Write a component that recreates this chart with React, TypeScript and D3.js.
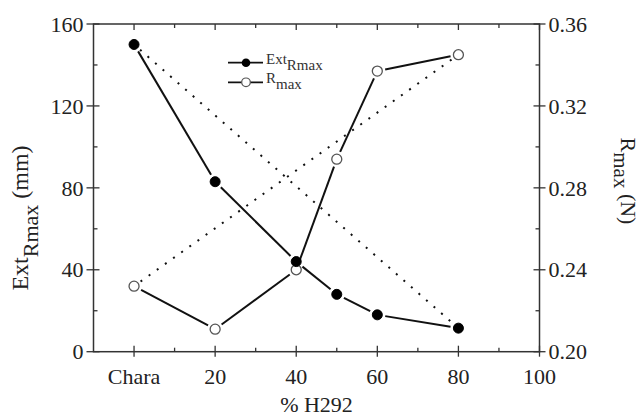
import React from "react";
import * as d3 from "d3";

const categories = [0, 20, 40, 50, 60, 80];
const extRmax = [150, 83, 44, 28, 18, 11.5];
const rMax = [0.232, 0.211, 0.240, 0.294, 0.337, 0.345];
const xTicksMajor = [0, 20, 40, 60, 80, 100];
const xTickLabels = ["Chara", "20", "40", "60", "80", "100"];
const xTicksMinor = [10, 30, 50, 70, 90];
const yLeftTicks = [0, 40, 80, 120, 160];
const yLeftMinor = [20, 60, 100, 140];
const yRightTicks = [0.2, 0.24, 0.28, 0.32, 0.36];
const yRightMinor = [0.22, 0.26, 0.30, 0.34];

const W = 644, H = 417;
const L = 93.5, R = 539.5, T = 24, B = 351.7;
const FONT = "'Liberation Serif', 'Times New Roman', serif";
const FS = 22;

export default function App() {
  const x = d3.scaleLinear().domain([-10, 100]).range([L, R]);
  const yL = d3.scaleLinear().domain([0, 160]).range([B, T]);
  const yR = d3.scaleLinear().domain([0.2, 0.36]).range([B, T]);

  const extPts = categories.map((c, i) => [x(c), yL(extRmax[i])] as [number, number]);
  const rPts = categories.map((c, i) => [x(c), yR(rMax[i])] as [number, number]);

  const rad = 5;
  const gap = 3;
  const segs = (pts: [number, number][]) =>
    pts.slice(1).map((p, i) => {
      const a = pts[i];
      const dx = p[0] - a[0], dy = p[1] - a[1];
      const len = Math.hypot(dx, dy);
      const s = (rad + gap) / len;
      return [a[0] + dx * s, a[1] + dy * s, p[0] - dx * s, p[1] - dy * s];
    });

  const dotted = (pts: [number, number][]) => {
    const a = pts[0], b = pts[pts.length - 1];
    const dx = b[0] - a[0], dy = b[1] - a[1];
    const len = Math.hypot(dx, dy);
    const s = (rad + 3) / len;
    return [a[0] + dx * s, a[1] + dy * s, b[0] - dx * s, b[1] - dy * s];
  };

  const line = "#111";
  const dExt = dotted(extPts);
  const dR = dotted(rPts);

  return (
    <svg width={W} height={H} style={{ position: "absolute", left: 0, top: 0, background: "#fff" }}>
      <rect x={0} y={0} width={W} height={H} fill="#fff" />
      {/* frame */}
      <rect x={L} y={T} width={R - L} height={B - T} fill="none" stroke="#333" strokeWidth={1.5} />

      {/* bottom ticks */}
      {xTicksMajor.map((t) => (
        <g key={"xb" + t}>
          <line x1={x(t)} x2={x(t)} y1={B - 6} y2={B + 5} stroke="#333" strokeWidth={1.3} />
          <line x1={x(t)} x2={x(t)} y1={T} y2={T + 6} stroke="#333" strokeWidth={1.3} />
        </g>
      ))}
      {xTicksMinor.map((t) => (
        <g key={"xm" + t}>
          <line x1={x(t)} x2={x(t)} y1={B - 4} y2={B} stroke="#333" strokeWidth={1.3} />
          <line x1={x(t)} x2={x(t)} y1={T} y2={T + 4} stroke="#333" strokeWidth={1.3} />
        </g>
      ))}
      {xTicksMajor.map((t, i) => (
        <text key={"xl" + t} x={x(t)} y={384} textAnchor="middle" fontFamily={FONT} fontSize={FS} fill="#222">
          {xTickLabels[i]}
        </text>
      ))}
      <text x={(L + R) / 2} y={412} textAnchor="middle" fontFamily={FONT} fontSize={FS} fill="#222">
        % H292
      </text>

      {/* left axis ticks */}
      {yLeftTicks.map((t) => (
        <g key={"yl" + t}>
          <line x1={L - 7} x2={L + 6} y1={yL(t)} y2={yL(t)} stroke="#333" strokeWidth={1.3} />
          <text x={L - 10} y={yL(t)} dy="0.35em" textAnchor="end" fontFamily={FONT} fontSize={FS} fill="#222">
            {t}
          </text>
        </g>
      ))}
      {yLeftMinor.map((t) => (
        <line key={"ylm" + t} x1={L} x2={L + 4} y1={yL(t)} y2={yL(t)} stroke="#333" strokeWidth={1.3} />
      ))}

      {/* right axis ticks */}
      {yRightTicks.map((t) => (
        <g key={"yr" + t}>
          <line x1={R - 6} x2={R + 6} y1={yR(t)} y2={yR(t)} stroke="#333" strokeWidth={1.3} />
          <text x={R + 9} y={yR(t)} dy="0.35em" textAnchor="start" fontFamily={FONT} fontSize={FS} fill="#222">
            {t.toFixed(2)}
          </text>
        </g>
      ))}
      {yRightMinor.map((t) => (
        <line key={"yrm" + t} x1={R - 4} x2={R} y1={yR(t)} y2={yR(t)} stroke="#333" strokeWidth={1.3} />
      ))}

      {/* axis titles */}
      <text transform="translate(28,218) rotate(-90)" textAnchor="middle" fontFamily={FONT} fontSize={24} fill="#222">
        Ext<tspan dy="10" fontSize={22}>Rmax</tspan>
        <tspan dy="-10"> (mm)</tspan>
      </text>
      <text transform="translate(621,181) rotate(90)" textAnchor="middle" fontFamily={FONT} fontSize={22} fill="#222">
        R<tspan dy="7" fontSize={21}>max</tspan>
        <tspan dy="-7"> (N)</tspan>
      </text>

      {/* dotted connectors */}
      <line x1={dExt[0]} y1={dExt[1]} x2={dExt[2]} y2={dExt[3]} stroke={line} strokeWidth={2} strokeDasharray="2,8" />
      <line x1={dR[0]} y1={dR[1]} x2={dR[2]} y2={dR[3]} stroke={line} strokeWidth={2} strokeDasharray="2,8" />

      {/* solid lines */}
      {segs(extPts).map((s, i) => (
        <line key={"se" + i} x1={s[0]} y1={s[1]} x2={s[2]} y2={s[3]} stroke={line} strokeWidth={2} />
      ))}
      {segs(rPts).map((s, i) => (
        <line key={"sr" + i} x1={s[0]} y1={s[1]} x2={s[2]} y2={s[3]} stroke={line} strokeWidth={2} />
      ))}

      {/* markers */}
      {rPts.map((p, i) => (
        <circle key={"rc" + i} cx={p[0]} cy={p[1]} r={rad} fill="#fff" stroke="#555" strokeWidth={1.3} />
      ))}
      {extPts.map((p, i) => (
        <circle key={"ec" + i} cx={p[0]} cy={p[1]} r={rad} fill="#000" stroke="#000" strokeWidth={1} />
      ))}

      {/* legend */}
      <line x1={228} x2={263} y1={62.7} y2={62.7} stroke={line} strokeWidth={1.8} />
      <circle cx={246} cy={62.7} r={4.3} fill="#000" />
      <text x={266} y={64} fontFamily={FONT} fontSize={15} fill="#333">
        Ext<tspan dy="6">Rmax</tspan>
      </text>
      <line x1={228} x2={263} y1={82.3} y2={82.3} stroke={line} strokeWidth={1.8} />
      <circle cx={246} cy={82.3} r={4.3} fill="#fff" stroke="#555" strokeWidth={1.2} />
      <text x={266} y={83} fontFamily={FONT} fontSize={15} fill="#333">
        R<tspan dy="6">max</tspan>
      </text>
    </svg>
  );
}
